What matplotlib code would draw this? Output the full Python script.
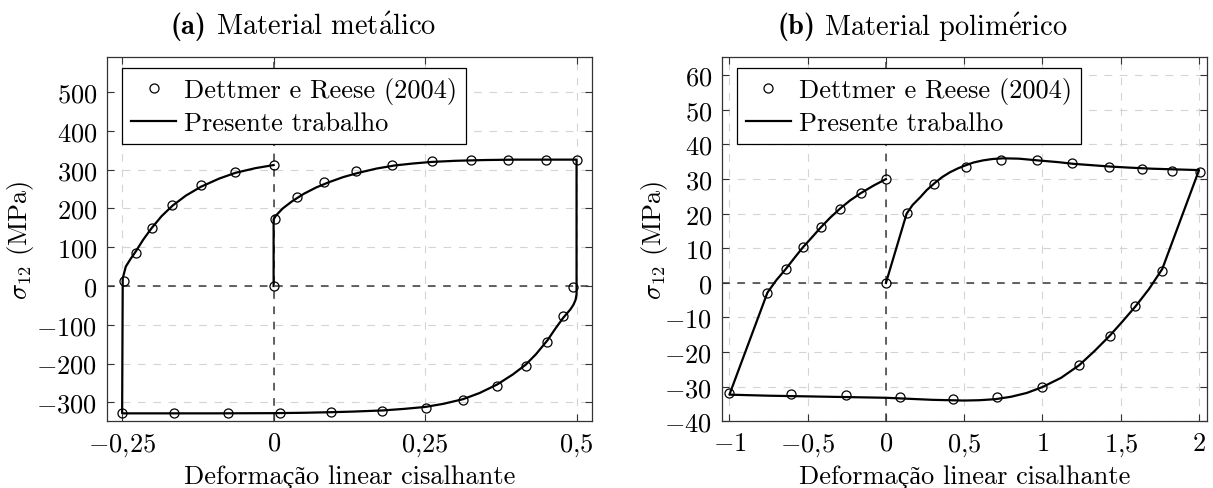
import matplotlib
matplotlib.use('Agg')
import matplotlib.pyplot as plt

plt.rcParams['font.family'] = ['cmr10', 'Liberation Serif']
plt.rcParams['mathtext.fontset'] = 'cm'
plt.rcParams['axes.unicode_minus'] = False
plt.rcParams['lines.scale_dashes'] = False

# (a) material metálico - pontos de referência
metal_ref_x = [0, 0.0025, 0.038, 0.083, 0.136, 0.196, 0.261, 0.326, 0.387, 0.449, 0.5,
               0.494, 0.478, 0.452, 0.416, 0.369, 0.3125, 0.251, 0.179, 0.095, 0.011,
               -0.076, -0.165, -0.25,
               -0.2475, -0.227, -0.201, -0.167, -0.120, -0.063, 0]
metal_ref_y = [0, 173, 229, 269, 296, 313, 322, 324, 325, 325, 325,
               -2, -78, -145, -207, -259, -294, -314, -322, -326, -328,
               -328, -328, -328,
               12, 84, 150, 209, 261, 295, 313]

# (a) curva do presente trabalho
metal_sim_x = [0, 0, 0.004, 0.015, 0.03, 0.05, 0.07, 0.09, 0.115, 0.14, 0.17, 0.2, 0.23,
               0.26, 0.3, 0.35, 0.4, 0.45, 0.5,
               0.5, 0.4985, 0.495, 0.49, 0.478, 0.465, 0.452, 0.433, 0.416, 0.395, 0.369,
               0.34, 0.3125, 0.28, 0.25, 0.215, 0.18, 0.13, 0.095, 0.05, 0, -0.1, -0.2, -0.25,
               -0.249, -0.244, -0.236, -0.228, -0.215, -0.201, -0.185, -0.167, -0.145,
               -0.12, -0.09, -0.063, -0.03, 0]
metal_sim_y = [0, 172, 182, 200, 218, 238, 254, 267, 281, 292, 303, 311, 316,
               320, 323, 325, 326, 326, 326,
               -21, -35, -48, -60, -82, -110, -140, -176, -203, -228, -254,
               -276, -292, -304, -312, -317, -321, -324, -325.5, -327, -328, -328.5, -328.5, -328.5,
               20, 50, 70, 88, 120, 150, 180, 207, 233,
               256, 277, 292, 304, 312]

# (b) material polimérico - pontos de referência
poly_ref_x = [0, 0.132, 0.31, 0.51, 0.734, 0.964, 1.189, 1.426, 1.636, 1.829, 2.008,
              1.761, 1.594, 1.429, 1.234, 0.997, 0.709, 0.43, 0.09, -0.252, -0.609, -1.0,
              -0.757, -0.64, -0.53, -0.415, -0.295, -0.162, 0]
poly_ref_y = [0, 20.3, 28.6, 33.6, 35.6, 35.5, 34.6, 33.6, 32.9, 32.4, 32.1,
              3.4, -6.8, -15.3, -23.8, -30.2, -33.1, -33.5, -33.1, -32.5, -32.1, -31.7,
              -2.8, 3.95, 10.3, 16.1, 21.4, 25.9, 30]

# (b) curva do presente trabalho
poly_sim_x = [0, 0.132, 0.17, 0.218, 0.26, 0.31, 0.36, 0.41, 0.46, 0.51, 0.56, 0.62, 0.68,
              0.75, 0.85, 0.97, 1.1, 1.2, 1.32, 1.44, 1.56, 1.7, 1.85, 2.0,
              1.765, 1.68, 1.594, 1.51, 1.429, 1.33, 1.234, 1.12, 1.0, 0.9, 0.8, 0.7, 0.6,
              0.5, 0.4, 0.3, 0.2, 0.1, 0, -0.25, -0.5, -0.75, -1.0,
              -0.757, -0.70, -0.64, -0.585, -0.53, -0.47, -0.415, -0.355, -0.295, -0.23,
              -0.162, -0.08, 0]
poly_sim_y = [0, 20, 22.5, 24.7, 26.8, 28.8, 30.6, 32, 33.1, 34, 34.8, 35.4, 35.8,
              36, 35.9, 35.4, 34.9, 34.4, 34, 33.6, 33.3, 33, 32.8, 32.6,
              4, -1.8, -6.8, -11.2, -15.3, -19.8, -23.8, -27.4, -30.1, -31.8, -32.9, -33.6, -33.9,
              -34.0, -33.9, -33.8, -33.6, -33.4, -33.2, -33.0, -32.8, -32.6, -32.3,
              -2.8, 0.8, 4, 7.2, 10.3, 13.3, 16.1, 18.9, 21.4, 23.8,
              25.9, 28.1, 30]

metal_xticks = [-0.25, 0, 0.25, 0.5]
metal_xlabels = [r'$-0{,}25$', r'$0$', r'$0{,}25$', r'$0{,}5$']
metal_yticks = [-300, -200, -100, 0, 100, 200, 300, 400, 500]
poly_xticks = [-1, -0.5, 0, 0.5, 1, 1.5, 2]
poly_xlabels = [r'$-1$', r'$-0{,}5$', r'$0$', r'$0{,}5$', r'$1$', r'$1{,}5$', r'$2$']
poly_yticks = [-40, -30, -20, -10, 0, 10, 20, 30, 40, 50, 60]

FS = 19
TFS = 20.5
dash = (0, (5.5, 5.5))
# texto simples: ç e ã vêm da fonte de reserva
xlabel_txt = 'Deformação linear cisalhante'

fig = plt.figure(figsize=(12.13, 4.89), dpi=100)
ax1 = fig.add_axes([0.0882, 0.1364, 0.3996, 0.7444])
ax2 = fig.add_axes([0.5950, 0.1364, 0.3998, 0.7444])


def style_axes(ax, xticks, xlabels, yticks, xlim, ylim, ylab_x):
    ax.set_xlim(*xlim)
    ax.set_ylim(*ylim)
    ax.set_xticks(xticks)
    ax.set_xticklabels(xlabels)
    ax.set_yticks(yticks)
    ax.set_yticklabels([r'$%d$' % v if v >= 0 else r'$-%d$' % -v for v in yticks])
    ax.tick_params(direction='in', length=5, width=0.8, color='#333333',
                   top=True, right=True, labelsize=FS, pad=7)
    ax.grid(True, color='#d4d4d4', linestyle=dash, linewidth=0.8, zorder=0)
    ax.set_axisbelow(True)
    for s in ax.spines.values():
        s.set_color('#333333')
        s.set_linewidth(0.9)
    ax.axhline(0, color='#3c3c3c', linestyle=dash, linewidth=1.1, zorder=1)
    ax.axvline(0, color='#3c3c3c', linestyle=dash, linewidth=1.1, zorder=1)
    ax.set_xlabel(xlabel_txt, fontsize=FS)
    ax.xaxis.set_label_coords(0.5, -0.118)
    ax.set_ylabel(r'$\sigma_{12}$ (MPa)', fontsize=FS)
    ax.yaxis.set_label_coords(ylab_x, 0.5)


for ax, rx, ry, sx, sy in [(ax1, metal_ref_x, metal_ref_y, metal_sim_x, metal_sim_y),
                           (ax2, poly_ref_x, poly_ref_y, poly_sim_x, poly_sim_y)]:
    ax.plot(rx, ry, 'o', mfc='none', mec='black', ms=6.5, mew=0.9, zorder=4,
            label='Dettmer e Reese (2004)')
    ax.plot(sx, sy, color='black', linewidth=1.6, zorder=3, label='Presente trabalho')
    ax.legend(loc='upper left', bbox_to_anchor=(0.031, 0.97), borderaxespad=0,
              fontsize=FS, fancybox=False, edgecolor='black', framealpha=1,
              handlelength=1.7, handletextpad=0.3, borderpad=0.35, labelspacing=0.25)
    ax.get_legend().get_frame().set_linewidth(0.9)

style_axes(ax1, metal_xticks, metal_xlabels, metal_yticks, (-0.275, 0.525), (-349, 590), -0.146)
style_axes(ax2, poly_xticks, poly_xlabels, poly_yticks, (-1.049, 2.049), (-40, 65.2), -0.107)

# títulos das subfiguras: rótulo em negrito + descrição
ty = 1 - 27 / 489
fig.text(206 / 1213, ty, '(a)', family='cmb10', fontsize=TFS, ha='right', va='center')
fig.text(216 / 1213, ty, r'Material met$\acute{\mathrm{a}}$lico', fontsize=TFS,
         ha='left', va='center')
fig.text(815 / 1213, ty, '(b)', family='cmb10', fontsize=TFS, ha='right', va='center')
fig.text(824 / 1213, ty, r'Material polim$\acute{\mathrm{e}}$rico', fontsize=TFS,
         ha='left', va='center')

fig.savefig('out.png', dpi=100)
